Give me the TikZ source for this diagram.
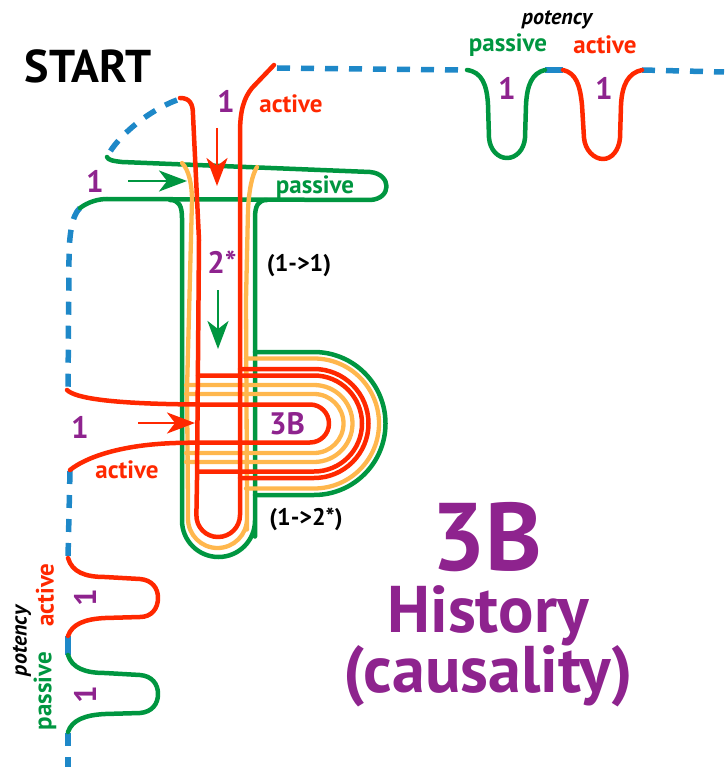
\documentclass[tikz,border=0pt]{standalone}
\usepackage{fontspec}
\setmainfont{PT Sans}
\usetikzlibrary{arrows.meta}
\definecolor{cred}{RGB}{255,40,0}
\definecolor{cgreen}{RGB}{0,150,64}
\definecolor{corange}{RGB}{255,183,77}
\definecolor{cblue}{RGB}{30,136,200}
\definecolor{cpurple}{RGB}{142,35,142}
\begin{document}
\begin{tikzpicture}[x=1pt,y=-1pt,
  redline/.style={cred,line width=4.5pt,line cap=round,line join=round},
  greenline/.style={cgreen,line width=4.5pt,line cap=round,line join=round},
  orangeline/.style={corange,line width=4.3pt,line cap=round,line join=round},
  blueline/.style={cblue,line width=5.5pt,dash pattern=on 13pt off 11pt},
  bluedash/.style={cblue,line width=5.5pt},
  arr/.style={line width=2.8pt,-{Stealth[length=28pt,width=21pt,inset=8pt]}},
  lab/.style={font=\bfseries\fontsize{25}{25}\selectfont,inner sep=0pt},
  blk/.style={font=\bfseries\fontsize{24}{24}\selectfont,inner sep=0pt,text=black},
  num/.style={font=\bfseries\fontsize{31}{31}\selectfont,text=cpurple,inner sep=0pt},
  pot/.style={font=\bfseries\itshape\fontsize{22}{22}\selectfont,inner sep=0pt,text=black},
  title/.style={font=\bfseries\fontsize{66}{66}\selectfont,text=cpurple,inner sep=0pt,anchor=base},
]
\useasboundingbox (0,0) rectangle (724,767);

% ---------- blue dashed boundary ----------
\draw[blueline] (277,68) -- (467,70);
\draw[bluedash] (545,70) -- (563,70);
\draw[blueline] (642,70) -- (724,72);
\draw[blueline] (177,100) .. controls (150,110) and (118,135) .. (107,157);
\draw[blueline] (80,208) .. controls (72,215) and (69,235) .. (69,260) -- (68,390);
\draw[blueline] (70,471) -- (68,558);
\draw[bluedash] (68,636) -- (68,655);
\draw[blueline] (68,733) -- (68,767);

% ---------- potency bumps, top ----------
\draw[greenline] (467,70) .. controls (482,72) and (487,85) .. (488,105) -- (489,138)
  .. controls (490,150) and (498,158) .. (507,158) .. controls (516,158) and (524,150) .. (525,138)
  -- (526,105) .. controls (527,85) and (532,73) .. (545,70);
\draw[redline] (563,70) .. controls (576,73) and (580,85) .. (582,105) -- (584,138)
  .. controls (585,150) and (594,159) .. (603,159) .. controls (612,159) and (619,150) .. (620,138)
  -- (621,105) .. controls (622,85) and (628,73) .. (642,70);

% ---------- potency bumps, left ----------
\draw[redline] (68,558) .. controls (72,572) and (85,577) .. (105,577) -- (140,579)
  .. controls (152,580) and (158,588) .. (158,598) .. controls (158,608) and (152,617) .. (140,617)
  -- (105,618) .. controls (85,619) and (72,624) .. (68,636);
\draw[greenline] (68,655) .. controls (72,668) and (85,673) .. (105,673) -- (140,675)
  .. controls (152,676) and (158,684) .. (158,694) .. controls (158,704) and (152,712) .. (140,713)
  -- (105,714) .. controls (85,715) and (72,720) .. (68,732);

% ---------- green passive loop and U ----------
\draw[greenline] (80,208) .. controls (88,202) and (98,199) .. (107,199) -- (370,200)
  .. controls (392,199) and (392,174) .. (370,172) -- (122,162)
  .. controls (113,161) and (108,160) .. (107,157);
\draw[greenline] (170,200) .. controls (179,200) and (182,206) .. (182,218) -- (182,500)
  [rounded corners=36.5pt] -- (182,557) -- (255,557) -- (255,500) [sharp corners]
  -- (255,218) .. controls (255,206) and (258,200) .. (267,200);
\draw[greenline,rounded corners=71.5pt] (255,352) -- (385.5,352) -- (385.5,495) -- (255,495);

% ---------- orange ----------
\draw[orangeline] (182,163) .. controls (189,170) and (192,185) .. (192,200) -- (187,390) -- (188,500)
  [rounded corners=29.5pt] -- (188,548) -- (247,548) -- (247,500) [sharp corners]
  -- (246,300) -- (248,210) .. controls (249,190) and (252,175) .. (257,167);
\draw[orangeline,rounded corners=65pt] (246,358.5) -- (379,358.5) -- (379,488.5) -- (246,488.5);
\draw[orangeline,rounded corners=38.5pt] (186,385) -- (352.5,385) -- (352.5,462) -- (186,462);
\draw[orangeline,rounded corners=29.5pt] (186,394) -- (343.5,394) -- (343.5,453) -- (186,453);

% ---------- red ----------
\draw[redline] (180,98) .. controls (190,98) and (193,104) .. (193,115) -- (199,240) -- (197,480)
  [rounded corners=22pt] -- (196,537) -- (240,537) -- (240,480) [sharp corners]
  -- (240,133) .. controls (240,110) and (244,98) .. (252,88) -- (274,65);
\draw[redline,rounded corners=54.5pt] (240,369) -- (368.5,369) -- (368.5,478) -- (240,478);
\draw[redline,rounded corners=48pt] (198,375.5) -- (362,375.5) -- (362,471.5) -- (198,471.5);
\draw[redline] (67,390) .. controls (75,398) and (110,404) .. (200,404.5)
  [rounded corners=19pt] -- (329,404.5) -- (329,442.5) -- (200,442.5) [sharp corners]
  .. controls (120,444) and (85,458) .. (70,470);

% ---------- arrows ----------
\coordinate (ra1) at (217,128); \coordinate (ra2) at (217,186);
\coordinate (ga1) at (128,181); \coordinate (ga2) at (187,181);
\coordinate (gd1) at (218,290); \coordinate (gd2) at (218,349);
\coordinate (rr1) at (138,423); \coordinate (rr2) at (195,423);
\draw[arr,cred] (ra1) -- (ra2);
\draw[arr,cgreen] (ga1) -- (ga2);
\draw[arr,cgreen] (gd1) -- (gd2);
\draw[arr,cred] (rr1) -- (rr2);

% ---------- texts ----------
\node[font=\bfseries\fontsize{46}{46}\selectfont,inner sep=0pt] (start) at (88,66) {START};
\node[num] (n1a) at (226,101) {1};
\node[lab,text=cred] (act1) at (291,104) {active};
\node[num] (n1b) at (95,181) {1};
\node[lab,text=cgreen] (pas1) at (315,187) {passive};
\node[num] (two) at (222,262) {2*};
\node[blk] (r11) at (299,266) {(1->1)};
\node[num] (n1c) at (80,427) {1};
\node[lab,text=cred] (act2) at (127,470) {active};
\node[num] (b3) at (287,424) {3B};
\node[blk] (r12) at (306,519) {(1->2*)};

\node[pot] (pot1) at (557,20) {potency};
\node[lab,text=cgreen] (pas2) at (508,45) {passive};
\node[lab,text=cred] (act3) at (605,45) {active};
\node[num] (n1d) at (507,88) {1};
\node[num] (n1e) at (604,88) {1};

\node[pot,rotate=90] (pot2) at (22,641) {potency};
\node[lab,text=cred,rotate=90] (act4) at (45,595) {active};
\node[lab,text=cgreen,rotate=90] (pas3) at (45,691) {passive};
\node[num,rotate=90] (n1f) at (85,598) {1};
\node[num,rotate=90] (n1g) at (85,695) {1};

\node[title,font=\bfseries\fontsize{96}{96}\selectfont] (big3b) at (487,570) {3B};
\node[title] (hist) at (488,632) {History};
\node[title] (caus) at (488,692) {(causality)};
\end{tikzpicture}
\end{document}
